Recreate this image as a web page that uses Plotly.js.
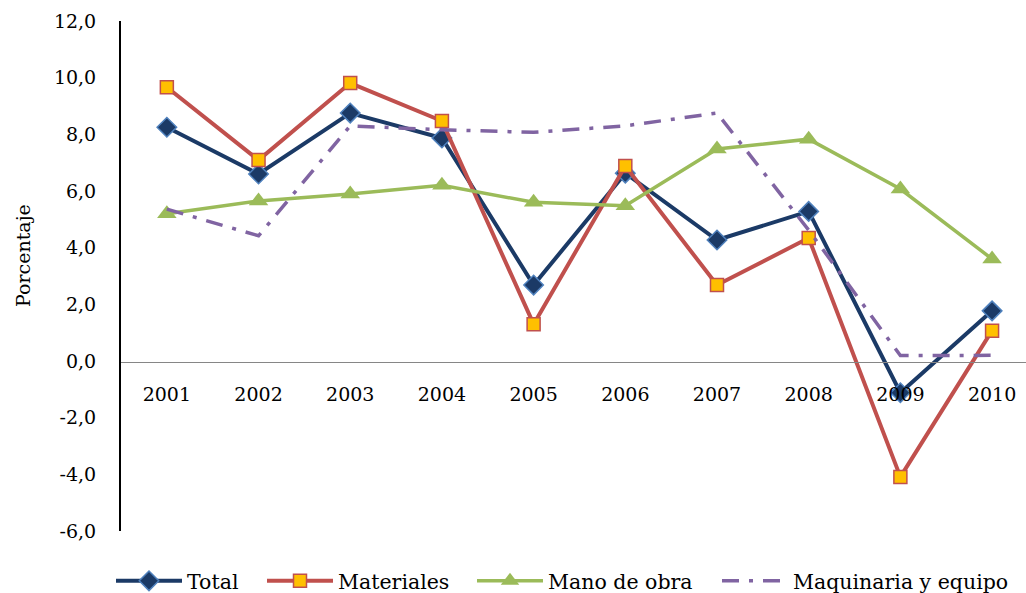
<!DOCTYPE html>
<html>
<head>
<meta charset="utf-8">
<script src="https://cdn.plot.ly/plotly-3.0.1.min.js"></script>
<style>html,body{margin:0;padding:0;background:#fff}#chart{width:1026px;height:593px}</style>
</head>
<body>
<div id="chart"></div>
<script>
var years = ["2001","2002","2003","2004","2005","2006","2007","2008","2009","2010"];
var total = [8.25, 6.6, 8.75, 7.87, 2.68, 6.63, 4.27, 5.28, -1.12, 1.77];
var materiales = [9.66, 7.09, 9.81, 8.47, 1.3, 6.88, 2.68, 4.34, -4.09, 1.07];
var manoDeObra = [5.2, 5.65, 5.89, 6.2, 5.6, 5.48, 7.48, 7.83, 6.07, 3.6];
var maquinaria = [5.36, 4.42, 8.3, 8.16, 8.07, 8.3, 8.75, 4.62, 0.19, 0.2];
var yTickVals = [-6, -4, -2, 0, 2, 4, 6, 8, 10, 12];
var yTickText = ["-6,0", "-4,0", "-2,0", "0,0", "2,0", "4,0", "6,0", "8,0", "10,0", "12,0"];

var FONT = "DejaVu Serif, Liberation Serif, serif";

var traces = [
  {x: years, y: total, name: "Total", type: "scatter", mode: "lines+markers", legend: "legend",
   line: {color: "#1B3A66", width: 4},
   marker: {symbol: "diamond", size: 15, color: "#1B3A66", line: {color: "#4F81BD", width: 1.5}}},
  {x: years, y: materiales, name: "Materiales", type: "scatter", mode: "lines+markers", legend: "legend2",
   line: {color: "#C0504D", width: 4},
   marker: {symbol: "square", size: 13, color: "#FFC000", line: {color: "#C0504D", width: 1.5}}},
  {x: years, y: manoDeObra, name: "Mano de obra", type: "scatter", mode: "lines+markers", legend: "legend3",
   line: {color: "#9BBB59", width: 3.5},
   marker: {symbol: "triangle-up", size: 17, color: "#9BBB59", line: {width: 0}}},
  {x: years, y: maquinaria, name: "Maquinaria y equipo", type: "scatter", mode: "lines", legend: "legend4",
   line: {color: "#8064A2", width: 3.5, dash: "17px,10px,4px,10px"}}
];

function leg(px) {
  return {orientation: "h", xref: "container", yref: "container", x: px / 1026, xanchor: "left",
          y: 12 / 593, yanchor: "middle", itemwidth: 66, bgcolor: "rgba(0,0,0,0)",
          font: {family: FONT, size: 20.5, color: "#000"}};
}

var layout = {
  width: 1026, height: 593,
  margin: {l: 121, r: 0, t: 21, b: 62, autoexpand: false},
  paper_bgcolor: "#fff", plot_bgcolor: "#fff",
  font: {family: FONT, size: 19, color: "#000"},
  showlegend: true,
  legend: leg(111), legend2: leg(262), legend3: leg(472), legend4: leg(717),
  xaxis: {type: "category", range: [-0.5, 9.37], anchor: "free", position: 0.3314,
          showline: true, linecolor: "#868686", linewidth: 1.5, ticks: "", showgrid: false,
          zeroline: false, ticklabelstandoff: 15, tickfont: {family: FONT, size: 19, color: "#000"}},
  yaxis: {range: [-6, 12], tickvals: yTickVals, ticktext: yTickText, showline: true,
          linecolor: "#000", linewidth: 2, ticks: "", showgrid: false, zeroline: false,
          ticklabelstandoff: 19, tickfont: {family: FONT, size: 19, color: "#000"}},
  annotations: [{text: "Porcentaje", xref: "paper", yref: "paper", x: -0.109, y: 0.54,
                 xanchor: "center", yanchor: "middle", textangle: -90, showarrow: false,
                 font: {family: FONT, size: 19, color: "#000"}}]
};

Plotly.newPlot("chart", traces, layout, {displayModeBar: false, staticPlot: true});
</script>
</body>
</html>
